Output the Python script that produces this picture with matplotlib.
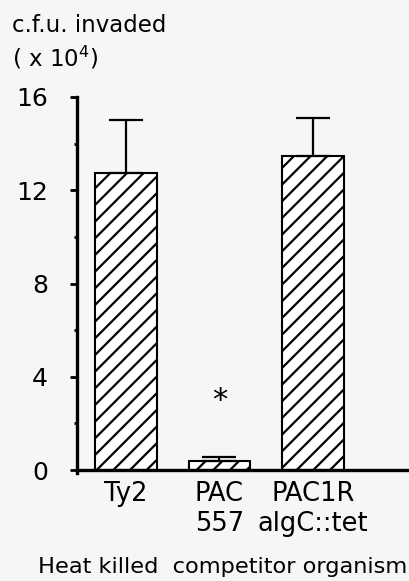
import matplotlib.pyplot as plt

# values
strains = ['Ty2', 'PAC\n557', 'PAC1R\nalgC::tet']
invaded = [12.75, 0.38, 13.45]
err_up = [2.25, 0.18, 1.65]
yticks = [0, 4, 8, 12, 16]

plt.rcParams['font.family'] = ['DejaVu Sans']
plt.rcParams['hatch.linewidth'] = 1.6

fig = plt.figure(figsize=(4.10, 5.81), dpi=100)
fig.patch.set_facecolor('#f6f6f6')
ax = fig.add_axes([77/410, 111/581, 333/410, 373/581])
ax.set_facecolor('none')

xs = list(range(len(strains)))
ax.bar(xs, invaded, width=0.66, color='white', edgecolor='black',
       linewidth=1.5, hatch='//', zorder=2)
ax.errorbar(xs, invaded, yerr=[[0] * 3, err_up], fmt='none', ecolor='black',
            elinewidth=1.6, capsize=12.5, capthick=1.6, zorder=3)
ax.text(1, 3.0, '*', ha='center', va='center', fontsize=22)

ax.set_xlim(-0.524, 3.04)
ax.set_ylim(0, 16)
ax.set_yticks(yticks)
ax.set_yticks([2, 6, 10, 14], minor=True)
ax.tick_params(axis='y', which='major', direction='out', length=5, width=2,
               labelsize=18, pad=16)
ax.tick_params(axis='y', which='minor', direction='out', length=2.5, width=2)
ax.set_xticks(xs)
ax.set_xticklabels(strains, fontsize=18.5, linespacing=1.2)
ax.tick_params(axis='x', length=0, pad=8)

for s in ['top', 'right']:
    ax.spines[s].set_visible(False)
ax.spines['left'].set_linewidth(2.4)
ax.spines['bottom'].set_linewidth(2.4)
ax.spines['left'].set_bounds(-0.15, 16)

fig.text(12/410, 1 - 32/581, 'c.f.u. invaded', fontsize=16.5, va='baseline')
fig.text(12/410, 1 - 66/581, '( x 10$^{4}$)', fontsize=16.5, va='baseline')
fig.text(38/410, 1 - 573/581, 'Heat killed  competitor organism',
         fontsize=16.2, va='baseline')

fig.savefig('out.png', dpi=100, facecolor=fig.get_facecolor())
